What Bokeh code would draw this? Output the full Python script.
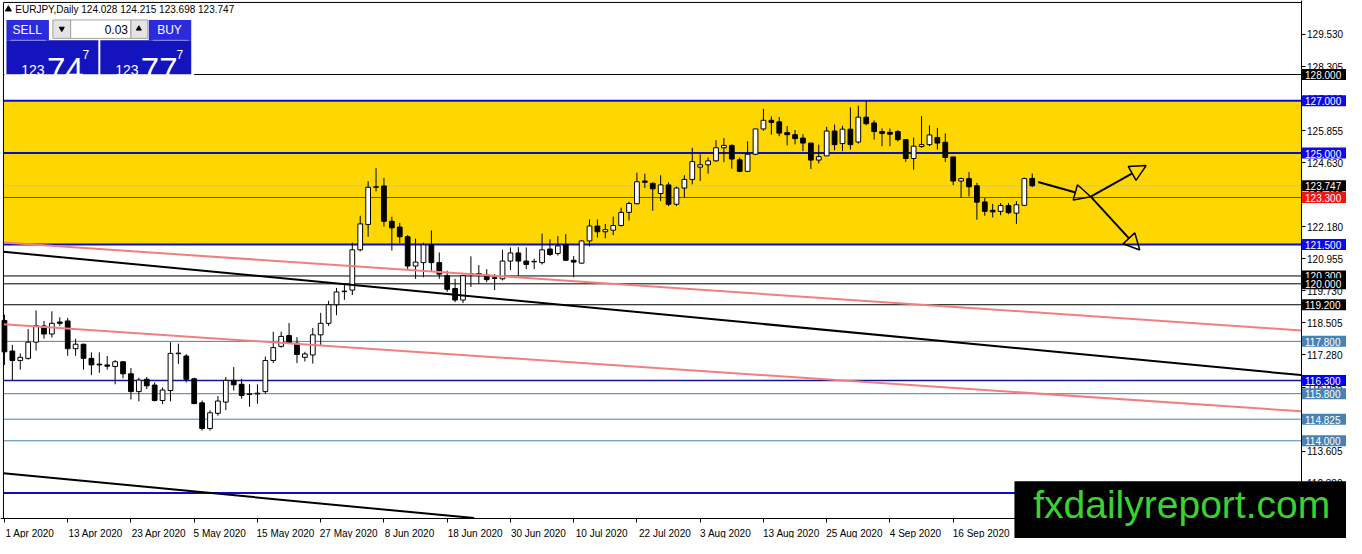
import numpy as np
import pandas as pd
from bokeh.plotting import figure
from bokeh.models import (ColumnDataSource, Range1d, FixedTicker, Label, Arrow, NormalHead,
                          BoxAnnotation, NumeralTickFormatter, CustomJSTickFormatter)
from bokeh.embed import file_html
from bokeh.resources import INLINE

# EURJPY daily, 1 Apr - 30 Sep 2020
dates = pd.bdate_range("2020-04-01", "2020-09-30")

opens = [118.60, 117.43, 117.07, 117.15, 117.77, 118.39, 118.08, 118.54, 118.58, 117.52,
         117.69, 117.15, 116.93, 116.90, 116.84, 117.02, 116.56, 115.88, 116.35, 116.13,
         115.54, 115.92, 117.34, 117.24, 116.37, 115.45, 114.47, 115.05, 115.48, 116.31,
         116.16, 115.77, 115.79, 115.88, 117.07, 117.61, 118.02, 117.73, 117.19, 117.28,
         118.05, 118.49, 119.20, 119.70, 119.76, 121.30, 122.27, 123.69, 123.74, 122.39,
         122.17, 121.80, 120.68, 120.81, 121.49, 120.81, 120.31, 119.82, 119.38, 120.37,
         120.39, 120.34, 120.23, 120.19, 120.87, 121.18, 120.87, 120.84, 120.81, 121.33,
         121.16, 121.49, 120.90, 120.79, 121.64, 122.21, 121.99, 122.05, 122.23, 122.73,
         123.06, 123.93, 123.84, 123.45, 123.78, 123.04, 123.66, 123.99, 124.46, 124.55,
         124.70, 125.20, 125.29, 124.74, 124.30, 124.95, 125.92, 126.25, 126.19, 125.78,
         125.70, 125.57, 125.38, 124.73, 124.89, 125.84, 125.36, 125.91, 125.42, 126.37,
         126.15, 125.82, 125.79, 125.82, 125.51, 124.79, 125.25, 125.32, 125.59, 125.41,
         124.85, 123.93, 124.02, 123.75, 123.13, 122.81, 122.77, 122.99, 122.70, 123.00,
         124.028]
highs = [118.82, 117.67, 117.34, 118.27, 118.98, 118.58, 118.95, 118.72, 118.70, 117.90,
         117.71, 117.38, 117.38, 117.24, 117.09, 117.05, 116.78, 116.41, 116.44, 116.23,
         116.04, 117.77, 117.71, 117.31, 116.41, 115.54, 115.17, 115.71, 116.44, 116.82,
         116.37, 116.16, 116.16, 117.22, 118.17, 118.17, 118.50, 117.96, 117.40, 118.31,
         118.89, 119.35, 119.84, 119.97, 121.57, 122.60, 123.92, 124.42, 124.05, 122.56,
         122.33, 121.86, 121.73, 121.57, 122.04, 121.20, 120.50, 120.19, 120.34, 121.05,
         120.72, 120.56, 120.37, 121.30, 121.39, 121.40, 121.39, 120.96, 121.92, 121.70,
         121.82, 121.90, 121.06, 121.66, 122.46, 122.46, 122.29, 122.57, 122.91, 123.14,
         124.25, 124.21, 123.88, 124.15, 123.88, 123.72, 124.15, 125.20, 124.95, 124.83,
         125.49, 125.57, 125.33, 124.83, 125.45, 125.92, 126.69, 126.40, 126.38, 126.03,
         125.88, 125.72, 125.38, 125.32, 126.00, 126.09, 126.04, 126.74, 126.81, 126.99,
         126.25, 125.94, 125.94, 125.88, 125.51, 125.59, 126.41, 126.06, 125.96, 125.75,
         124.85, 124.06, 124.27, 123.86, 123.28, 123.06, 123.09, 123.09, 123.16, 124.06,
         124.215]
lows = [116.90, 116.32, 116.72, 117.10, 117.45, 117.90, 117.95, 118.39, 117.25, 117.25,
        116.72, 116.51, 116.60, 116.72, 116.16, 116.39, 115.58, 115.51, 115.98, 115.50,
        115.40, 115.51, 116.94, 116.23, 115.42, 114.39, 114.39, 114.96, 115.17, 115.92,
        115.61, 115.30, 115.42, 115.79, 116.97, 117.56, 117.73, 116.97, 117.03, 116.95,
        117.65, 118.39, 118.80, 119.39, 119.57, 121.24, 121.80, 123.53, 122.19, 121.27,
        121.55, 120.56, 120.19, 120.25, 120.50, 120.19, 119.69, 119.30, 119.26, 119.88,
        120.00, 120.06, 119.76, 120.13, 120.53, 120.31, 120.56, 120.56, 120.74, 121.06,
        121.08, 120.87, 120.25, 120.77, 121.43, 121.77, 121.74, 121.86, 122.19, 122.42,
        123.04, 123.66, 122.79, 123.16, 122.97, 122.97, 123.31, 123.80, 123.93, 124.21,
        124.67, 124.65, 124.40, 124.27, 124.27, 124.92, 125.85, 125.70, 125.64, 125.29,
        125.33, 125.07, 124.39, 124.60, 124.89, 125.10, 125.07, 125.13, 125.36, 126.06,
        125.51, 125.26, 125.26, 125.44, 124.66, 124.36, 125.20, 125.26, 125.13, 124.66,
        123.77, 123.28, 123.34, 122.45, 122.60, 122.54, 122.62, 122.66, 122.29, 122.97,
        123.698]
closes = [117.40, 117.07, 117.19, 117.77, 118.40, 118.08, 118.49, 118.49, 117.52, 117.69,
          117.15, 116.90, 116.90, 116.85, 117.02, 116.56, 115.88, 116.32, 116.10, 115.54,
          115.94, 117.34, 117.33, 116.35, 115.42, 114.47, 115.07, 115.52, 116.31, 116.14,
          115.73, 115.79, 115.82, 117.07, 117.56, 117.99, 117.75, 117.30, 117.32, 118.05,
          118.49, 119.20, 119.69, 119.72, 121.30, 122.29, 123.69, 123.70, 122.39, 122.14,
          121.80, 120.68, 120.83, 121.49, 120.81, 120.37, 119.79, 119.38, 120.31, 120.39,
          120.37, 120.16, 120.21, 120.87, 121.18, 120.87, 120.74, 120.86, 121.30, 121.12,
          121.45, 120.90, 120.83, 121.64, 122.21, 121.99, 122.07, 122.23, 122.73, 123.07,
          123.90, 123.88, 123.63, 123.78, 123.04, 123.66, 123.99, 124.67, 124.55, 124.70,
          125.20, 125.29, 124.77, 124.30, 124.95, 125.92, 126.25, 126.17, 125.76, 125.70,
          125.55, 125.38, 124.73, 124.86, 125.84, 125.32, 125.91, 125.32, 126.37, 126.12,
          125.82, 125.75, 125.72, 125.51, 124.79, 125.26, 125.32, 125.69, 125.38, 124.83,
          123.93, 124.02, 123.71, 123.12, 122.77, 122.75, 122.99, 122.72, 123.02, 124.02,
          123.747]

# horizontal levels on the chart and their price tags
levels = [128.000, 127.000, 125.000, 123.747, 123.300, 121.500, 120.300, 120.000, 119.200,
          117.800, 116.300, 115.800, 114.825, 114.000, 112.000]
BLUE, STEEL, TAG = "#0c0cc8", "#4682b4", "#0a0ae6"
level_line_color = ["black", BLUE, BLUE, "#c0c0c0", "red", BLUE, "black", "black", "black",
                    STEEL, "#12129a", STEEL, STEEL, STEEL, BLUE]
level_line_width = [1, 2, 2, 1, 1, 2, 1, 1, 1, 1, 1.5, 1, 1, 1, 2]
level_tag_color = ["black", TAG, TAG, "black", "#f01414", TAG, "black", "black", "black",
                   STEEL, "#0000ff", STEEL, STEEL, STEEL, TAG]

zone_bottom, zone_top = 121.5, 127.0

price_ticks = [112.380, 113.605, 114.830, 116.055, 117.280, 118.505, 119.730, 120.955,
               122.180, 123.405, 124.630, 125.855, 127.080, 128.305, 129.530]

# trend lines, (bar, price) anchors
black_x, black_y = [-0.125, 164], [121.225, 116.51]
black2_x, black2_y = [-0.125, 70], [112.755, 110.74]
pink_x, pink_y = [-0.125, 164], [121.578, 118.22]
pink2_x, pink2_y = [-0.125, 164], [118.453, 115.13]

# arrows, (bar, price) start -> end
arrows = [((130.75, 123.89), (137.4, 123.33)),
          ((137.4, 123.33), (144.4, 124.52)),
          ((137.4, 123.33), (143.6, 121.29))]


# reference-window pixel -> data helpers (bar width 8px, 26.94px per yen)
def bx(X):
    return (X - 4) / 8.0


def py(Y):
    return 129.53 - (Y - 35) / 26.94


# the chart box inside the window; the price / time scales sit on its right / bottom edge
B_LEFT, B_RIGHT, B_TOP, B_BOTTOM = bx(3), bx(1316), py(2), py(533)

p = figure(width=1346, height=538, output_backend="svg", toolbar_location=None, title=None,
           x_range=Range1d(bx(0), bx(1362)), y_range=Range1d(py(554), py(0)),
           y_axis_location="right", min_border=0, min_border_left=0, min_border_right=0,
           min_border_top=0, min_border_bottom=0)
p.grid.visible = False
p.outline_line_color = None
p.background_fill_color = "white"
p.border_fill_color = "white"

# yellow zone and horizontal levels
p.quad(left=B_LEFT, right=B_RIGHT, bottom=zone_bottom, top=zone_top, fill_color="#ffd700",
       line_color=None)
lvl = ColumnDataSource(dict(y=levels, color=level_line_color, width=level_line_width))
p.segment(x0=B_LEFT, x1=B_RIGHT, y0="y", y1="y", line_color="color", line_width="width",
          source=lvl)

# candles
x = np.arange(len(dates))
o = np.array(opens)
c = np.array(closes)
bot = np.minimum(o, c)
top = np.maximum(np.maximum(o, c), bot + 0.02)
src = ColumnDataSource(dict(x=x, high=highs, low=lows, top=top, bottom=bot,
                            fill=np.where(c >= o, "white", "black")))
p.segment(x0="x", y0="high", x1="x", y1="low", source=src, line_color="black", line_width=1)
p.vbar(x="x", width=0.6, top="top", bottom="bottom", fill_color="fill", line_color="black",
       line_width=1, source=src)

# trend lines (the lower one stops at the chart's bottom edge)
p.line(black_x, black_y, line_color="black", line_width=2)
x_cut = float(np.interp(B_BOTTOM, black2_y[::-1], black2_x[::-1]))
p.line([black2_x[0], x_cut], [black2_y[0], B_BOTTOM], line_color="black", line_width=2)
p.line(pink_x, pink_y, line_color="#f08080", line_width=2)
p.line(pink2_x, pink2_y, line_color="#f08080", line_width=2)

# chart border (left and top; right and bottom are the scales)
p.line([B_LEFT, B_LEFT, B_RIGHT], [B_BOTTOM, B_TOP, B_TOP], line_color="black", line_width=1)

for (xs, ys), (xe, ye) in arrows:
    p.add_layout(Arrow(end=NormalHead(size=16, fill_color=None, line_color="black", line_width=1.5),
                       x_start=xs, y_start=ys, x_end=xe, y_end=ye,
                       line_color="black", line_width=2))

# one-click trading panel
panel = [
    (4, 196, 17, 78, "white", None),
    (6, 49, 20, 41, "#2b2bdc", None),
    (150, 193, 20, 41, "#2b2bdc", None),
    (53, 71, 20, 39, "#e4e4e4", "#a0a0a0"),
    (71, 132, 20, 39, "white", "#a0a0a0"),
    (132, 149, 20, 39, "#e4e4e4", "#a0a0a0"),
    (6, 99, 41, 76, "#1414be", None),
    (101, 193, 41, 76, "#1414be", None),
]
for l, r, t, b, fc, lc in panel:
    p.quad(left=bx(l), right=bx(r), top=py(t), bottom=py(b), fill_color=fc, line_color=lc)
p.segment(x0=[bx(10), bx(154)], y0=[py(41)] * 2, x1=[bx(46), bx(190)], y1=[py(41)] * 2,
          line_color="#8c8cf5", line_width=1)
p.scatter([bx(62)], [py(29)], marker="inverted_triangle", size=5, color="black")
p.scatter([bx(140)], [py(29)], marker="triangle", size=5, color="black")
p.scatter([bx(8)], [py(9)], marker="triangle", size=6, color="black")


def txt(X, Y, s, size, color="white", align="left", baseline="alphabetic"):
    p.add_layout(Label(x=bx(X), y=py(Y), text=s, text_font="Liberation Sans",
                       text_font_size=f"{size}px", text_color=color, text_align=align,
                       text_baseline=baseline))


txt(15, 9, "EURJPY,Daily  124.028 124.215 123.698 123.747", 10, "black", baseline="middle")
txt(27, 30, "SELL", 12, align="center", baseline="middle")
txt(171, 30, "BUY", 12, align="center", baseline="middle")
txt(129, 30, "0.03", 12, "black", align="right", baseline="middle")
txt(21, 72, "123", 14)
txt(47, 71, "74", 33)
txt(83, 56, "7", 12)
txt(116, 72, "123", 14)
txt(142, 71, "77", 33)
txt(178, 56, "7", 12)

# price scale on the chart's right edge
p.yaxis.fixed_location = B_RIGHT
p.yaxis.ticker = FixedTicker(ticks=price_ticks)
p.yaxis.formatter = NumeralTickFormatter(format="0.000")
p.yaxis.major_tick_in = 0
p.yaxis.major_tick_out = 4
p.yaxis.minor_tick_line_color = None
p.yaxis.major_label_standoff = 2
p.yaxis.major_label_text_font = "Liberation Sans"
p.yaxis.major_label_text_font_size = "10px"
p.yaxis.major_label_text_color = "black"
p.yaxis.axis_line_color = "black"

# time scale on the chart's bottom edge, labels start at their bar
tick_idx = list(range(0, len(dates), 8))
tick_text = [f"{dates[i].day} {dates[i].strftime('%b %Y')}" for i in tick_idx]
tick_pos = [i + (len(t) * 2.45 + 1) / 7.9 for i, t in zip(tick_idx, tick_text)]
p.xaxis.fixed_location = B_BOTTOM
p.xaxis.ticker = FixedTicker(ticks=tick_pos, minor_ticks=tick_idx)
p.xaxis.formatter = CustomJSTickFormatter(args=dict(labels=tick_text), code="return labels[index];")
p.xaxis.major_tick_line_color = None
p.xaxis.minor_tick_in = 0
p.xaxis.minor_tick_out = 4
p.xaxis.minor_tick_line_color = "black"
p.xaxis.major_label_standoff = 4
p.xaxis.major_label_text_font = "Liberation Sans"
p.xaxis.major_label_text_font_size = "10px"
p.xaxis.major_label_text_color = "black"
p.xaxis.axis_line_color = "black"

# price tags on the scale
for lv, tc in zip(levels, level_tag_color):
    p.add_layout(Label(x=B_RIGHT, y=lv, x_offset=1, text=f"{lv:.3f}", text_font="Liberation Sans",
                       text_font_size="10px", text_color="white", text_baseline="middle",
                       background_fill_color=tc, padding=dict(left=3, right=6, top=2, bottom=1)))

# site watermark, bottom right
p.add_layout(BoxAnnotation(left=bx(1026), right=bx(1362), top=py(495), bottom=py(554),
                           fill_color="black", fill_alpha=1, line_color=None))
p.add_layout(Label(x=bx(1045), y=py(541), text="fxdailyreport.com", text_font="Liberation Sans",
                   text_font_size="39px", text_color="#3bd12f"))

open("out.html", "w").write(file_html(p, INLINE))
